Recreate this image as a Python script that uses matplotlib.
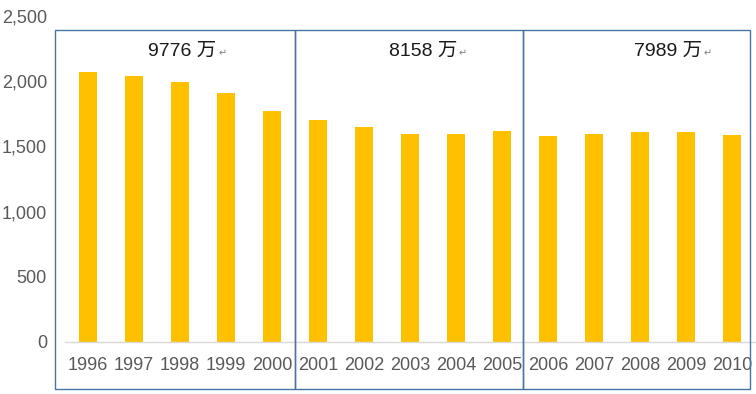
import matplotlib
matplotlib.use("Agg")
import matplotlib.pyplot as plt
from matplotlib.patches import Rectangle

years = ["1996", "1997", "1998", "1999", "2000", "2001", "2002", "2003",
         "2004", "2005", "2006", "2007", "2008", "2009", "2010"]
values = [2069, 2038, 1992, 1908, 1770, 1701, 1648, 1594,
          1594, 1617, 1579, 1594, 1609, 1609, 1586]
group_labels = ["9776 万", "8158 万", "7989 万"]
yticks = [0, 500, 1000, 1500, 2000, 2500]

W, H = 756, 394
fig = plt.figure(figsize=(W / 100, H / 100), dpi=100)
ax = fig.add_axes([65 / W, 52 / H, 690 / W, 326 / H])

x = list(range(len(years)))
ax.bar(x, values, width=0.4, color="#FFC000", zorder=2)
ax.set_xlim(-0.5, len(years) - 0.5)
ax.set_ylim(0, 2500)
ax.set_yticks(yticks)
ax.set_yticklabels([f"{v:,}" for v in yticks])
ax.set_xticks(x)
ax.set_xticklabels(years)

for s in ["top", "right", "left"]:
    ax.spines[s].set_visible(False)
ax.spines["bottom"].set_color("#D9D9D9")
ax.spines["bottom"].set_linewidth(1.0)
ax.tick_params(axis="both", length=0, labelsize=13, labelcolor="#595959")
ax.tick_params(axis="y", pad=13)
ax.tick_params(axis="x", pad=11)
for lab in ax.get_xticklabels() + ax.get_yticklabels():
    lab.set_fontfamily("Liberation Sans")

# group boxes (figure pixel coordinates)
box_edges = [55, 295, 523, 750]
top_px, bot_px = 30, 389
for i in range(3):
    x0, x1 = box_edges[i], box_edges[i + 1]
    fig.patches.append(Rectangle((x0 / W, 1 - bot_px / H), (x1 - x0) / W,
                                 (bot_px - top_px) / H, transform=fig.transFigure,
                                 fill=False, edgecolor="#4A74A0", linewidth=1.0))

text_x = [148, 389, 634]
arrow_x = [219, 459, 704]
for lbl, tx, axx in zip(group_labels, text_x, arrow_x):
    fig.text(tx / W, 1 - 51 / H, lbl, ha="left", va="center", fontsize=14,
             color="#1a1a1a", family=["Liberation Sans", "Noto Sans CJK SC"])
    fig.text(axx / W, 1 - 53 / H, "\u21b5", ha="left", va="center", fontsize=7,
             color="#808080", family=["DejaVu Sans"])

fig.savefig("out.png", dpi=100)
